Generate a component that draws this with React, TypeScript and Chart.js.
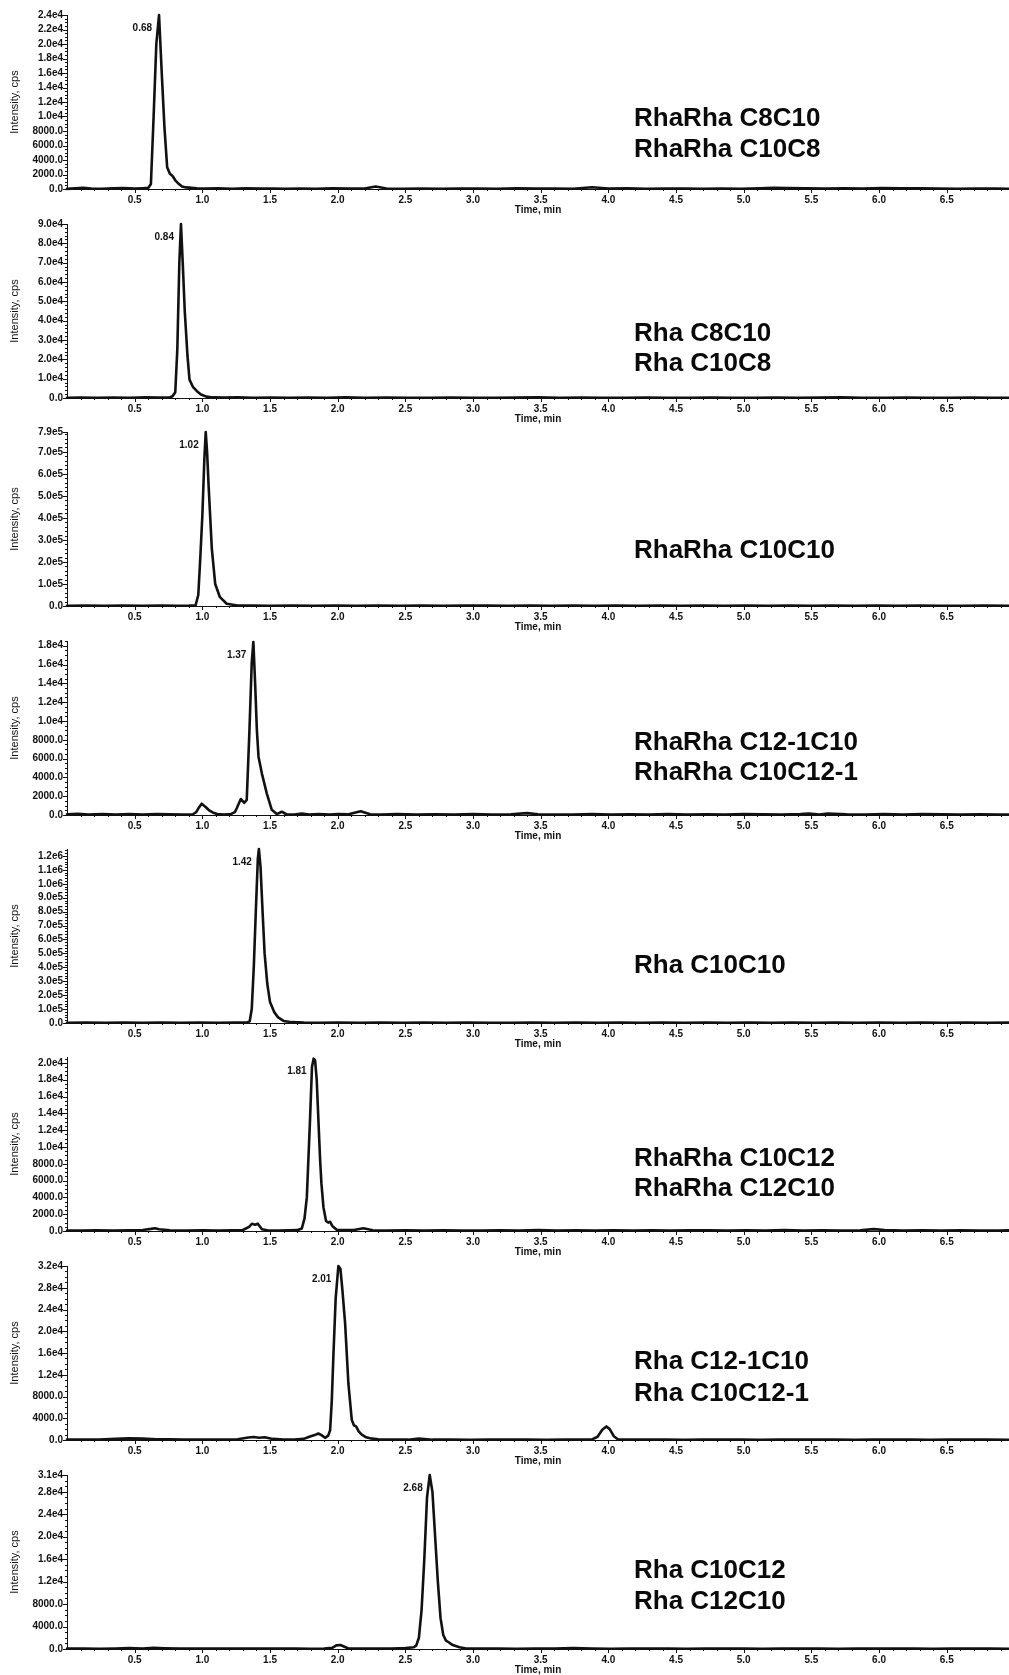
import React, { useEffect, useRef } from "react";
import { Chart, registerables } from "chart.js";

Chart.register(...registerables);

const FONT = '"Liberation Sans", Arial, Helvetica, sans-serif';
const INK = "#111111";

// ---------- Panel 1: RhaRha C8C10 / C10C8 ----------
const time1 = [
  0.0, 0.06, 0.12, 0.18, 0.26, 0.34, 0.42, 0.5, 0.56, 0.6,
  0.62, 0.64, 0.66, 0.68, 0.7, 0.72, 0.74, 0.76, 0.78, 0.8,
  0.82, 0.85, 0.88, 0.92, 0.96, 1.02, 1.12, 1.22, 1.32, 1.42,
  1.52, 1.62, 1.72, 1.84, 1.96, 2.08, 2.2, 2.28, 2.36, 2.48,
  2.62, 2.76, 2.9, 3.04, 3.18, 3.32, 3.46, 3.6, 3.74, 3.88,
  4.0, 4.14, 4.28, 4.42, 4.56, 4.7, 4.84, 4.98, 5.12, 5.22,
  5.32, 5.46, 5.6, 5.74, 5.88, 6.02, 6.16, 6.3, 6.44, 6.58,
  6.72, 6.86, 6.96,
];
const int1 = [
  20, 80, 160, 60, 40, 90, 120, 70, 110, 150,
  700, 10000, 20000, 24000, 16000, 8500, 3000, 2100, 1800, 1200,
  800, 350, 220, 160, 90, 60, 80, 40, 90, 50,
  70, 40, 60, 30, 80, 50, 60, 350, 60, 40,
  70, 30, 60, 50, 40, 80, 50, 60, 40, 250,
  60, 80, 40, 70, 50, 30, 60, 40, 100, 160,
  120, 80, 60, 90, 70, 130, 90, 110, 60, 40,
  70, 50, 40,
];

// ---------- Panel 2: Rha C8C10 / C10C8 ----------
const time2 = [
  0.0, 0.1, 0.22, 0.34, 0.46, 0.58, 0.68, 0.76, 0.78, 0.8,
  0.815, 0.83, 0.842, 0.855, 0.87, 0.89, 0.905, 0.93, 0.96, 0.99,
  1.03, 1.08, 1.16, 1.26, 1.38, 1.5, 1.64, 1.78, 1.92, 2.06,
  2.2, 2.36, 2.52, 2.68, 2.84, 3.0, 3.16, 3.32, 3.48, 3.64,
  3.8, 3.96, 4.12, 4.28, 4.44, 4.6, 4.76, 4.92, 5.08, 5.24,
  5.4, 5.56, 5.72, 5.88, 6.04, 6.2, 6.36, 6.52, 6.68, 6.84,
  6.96,
];
const int2 = [
  100, 200, 150, 250, 100, 300, 200, 400, 900, 3000,
  25000, 70000, 90000, 70000, 45000, 22000, 9500, 5800, 3500, 1800,
  700, 300, 200, 300, 150, 250, 100, 200, 150, 300,
  100, 200, 150, 100, 250, 150, 100, 200, 300, 100,
  200, 150, 100, 250, 150, 100, 200, 100, 150, 250,
  100, 200, 300, 150, 100, 200, 150, 100, 200, 100,
  150,
];

// ---------- Panel 3: RhaRha C10C10 ----------
const time3 = [
  0.0, 0.14, 0.28, 0.42, 0.56, 0.7, 0.82, 0.9, 0.95, 0.97,
  0.985, 1.0, 1.015, 1.025, 1.035, 1.046, 1.07, 1.095, 1.13, 1.18,
  1.26, 1.36, 1.5, 1.66, 1.82, 1.98, 2.14, 2.3, 2.46, 2.62,
  2.78, 2.94, 3.1, 3.26, 3.42, 3.58, 3.74, 3.9, 4.06, 4.22,
  4.38, 4.54, 4.7, 4.86, 5.02, 5.18, 5.34, 5.5, 5.66, 5.82,
  5.98, 6.14, 6.3, 6.46, 6.62, 6.78, 6.96,
];
const int3 = [
  1000, 2000, 800, 1500, 1000, 2000, 1000, 1500, 3000, 50000,
  220000, 410000, 670000, 790000, 700000, 550000, 260000, 100000, 40000, 10000,
  2500, 1500, 1000, 2000, 800, 1500, 1000, 2000, 1000, 1500,
  800, 1500, 2000, 1000, 1500, 800, 2000, 1000, 1500, 1000,
  2000, 800, 1500, 1000, 2000, 1000, 1500, 800, 2000, 1000,
  1500, 1000, 2000, 1000, 800, 1500, 1000,
];

// ---------- Panel 4: RhaRha C12-1C10 / C10C12-1 ----------
const time4 = [
  0.0, 0.08, 0.16, 0.26, 0.36, 0.46, 0.56, 0.66, 0.76, 0.86,
  0.93, 0.955, 0.975, 0.995, 1.02, 1.05, 1.08, 1.11, 1.16, 1.21,
  1.24, 1.255, 1.284, 1.31, 1.328, 1.348, 1.365, 1.377, 1.39, 1.403,
  1.415, 1.44, 1.476, 1.513, 1.55, 1.587, 1.62, 1.68, 1.735, 1.79,
  1.86, 1.94, 2.005, 2.08, 2.17, 2.24, 2.32, 2.44, 2.58, 2.72,
  2.86, 3.0, 3.14, 3.28, 3.4, 3.48, 3.6, 3.74, 3.88, 4.02,
  4.16, 4.3, 4.44, 4.58, 4.72, 4.86, 5.0, 5.14, 5.28, 5.42,
  5.48, 5.56, 5.62, 5.76, 5.9, 6.04, 6.18, 6.32, 6.46, 6.6,
  6.74, 6.88, 6.96,
];
const int4 = [
  80, 120, 50, 100, 60, 90, 40, 110, 70, 50,
  80, 300, 800, 1200, 900, 500, 250, 100, 60, 90,
  300, 750, 1700, 1300, 1600, 9000, 16200, 18400, 14000, 9000,
  6200, 4400, 2300, 550, 100, 350, 80, 60, 150, 50,
  90, 60, 110, 70, 400, 80, 50, 90, 40, 70,
  60, 90, 50, 80, 200, 80, 60, 40, 90, 60,
  70, 50, 90, 40, 80, 60, 100, 70, 50, 90,
  150, 60, 160, 70, 50, 90, 60, 100, 70, 50,
  80, 60, 50,
];

// ---------- Panel 5: Rha C10C10 ----------
const time5 = [
  0.0, 0.14, 0.28, 0.42, 0.56, 0.7, 0.84, 0.98, 1.12, 1.24,
  1.33, 1.35, 1.365, 1.38, 1.395, 1.41, 1.418, 1.43, 1.445, 1.46,
  1.48, 1.5, 1.53, 1.56, 1.6, 1.66, 1.75, 1.86, 2.0, 2.16,
  2.32, 2.48, 2.64, 2.8, 2.96, 3.12, 3.28, 3.44, 3.6, 3.76,
  3.92, 4.08, 4.24, 4.4, 4.56, 4.72, 4.88, 5.04, 5.2, 5.36,
  5.52, 5.68, 5.84, 6.0, 6.16, 6.32, 6.48, 6.64, 6.8, 6.96,
];
const int5 = [
  2000, 3000, 1500, 2500, 2000, 3000, 2000, 2500, 2000, 3000,
  4000, 12000, 100000, 400000, 800000, 1180000, 1250000, 1120000, 800000, 500000,
  280000, 150000, 80000, 40000, 15000, 6000, 3000, 2000, 3000, 2000,
  2500, 1500, 3000, 2000, 2500, 2000, 1500, 3000, 2000, 2500,
  2000, 3000, 1500, 2500, 2000, 3000, 2000, 2500, 1500, 3000,
  2000, 2500, 2000, 3000, 1500, 2500, 2000, 3000, 2000, 2500,
];

// ---------- Panel 6: RhaRha C10C12 / C12C10 ----------
const time6 = [
  0.0, 0.1, 0.22, 0.34, 0.46, 0.56, 0.62, 0.65, 0.68, 0.76,
  0.88, 1.0, 1.12, 1.22, 1.3, 1.345, 1.366, 1.39, 1.41, 1.44,
  1.48, 1.56, 1.64, 1.7, 1.735, 1.755, 1.772, 1.796, 1.81, 1.822,
  1.833, 1.845, 1.857, 1.87, 1.88, 1.895, 1.914, 1.93, 1.944, 1.96,
  1.993, 2.05, 2.12, 2.19, 2.26, 2.36, 2.5, 2.64, 2.78, 2.92,
  3.06, 3.2, 3.34, 3.48, 3.62, 3.76, 3.9, 4.04, 4.18, 4.32,
  4.46, 4.6, 4.74, 4.88, 5.02, 5.16, 5.3, 5.44, 5.58, 5.72,
  5.86, 5.96, 6.04, 6.18, 6.32, 6.46, 6.6, 6.74, 6.88, 6.96,
];
const int6 = [
  60, 40, 90, 50, 80, 120, 250, 330, 200, 70,
  50, 90, 60, 80, 120, 500, 850, 750, 870, 200,
  80, 60, 90, 100, 300, 1500, 4000, 13400, 19500, 20500,
  20300, 18000, 13400, 8500, 5600, 2800, 1200, 1000, 1100, 600,
  150, 100, 120, 320, 90, 60, 80, 50, 90, 60,
  40, 80, 60, 100, 50, 70, 40, 90, 60, 80,
  50, 70, 90, 40, 80, 60, 100, 50, 70, 60,
  90, 220, 110, 60, 80, 50, 90, 60, 40, 70,
];

// ---------- Panel 7: Rha C12-1C10 / C10C12-1 ----------
const time7 = [
  0.0, 0.12, 0.24, 0.36, 0.46, 0.56, 0.66, 0.76, 0.86, 0.96,
  1.06, 1.16, 1.26, 1.34, 1.38, 1.42, 1.46, 1.52, 1.6, 1.68,
  1.75, 1.79, 1.83, 1.857, 1.88, 1.907, 1.93, 1.944, 1.956, 1.968,
  1.985, 2.005, 2.02, 2.035, 2.055, 2.079, 2.104, 2.12, 2.136, 2.155,
  2.178, 2.21, 2.24, 2.3, 2.4, 2.52, 2.6, 2.7, 2.84, 2.98,
  3.12, 3.26, 3.4, 3.54, 3.68, 3.8, 3.88, 3.92, 3.955, 3.985,
  4.01, 4.04, 4.07, 4.14, 4.28, 4.42, 4.56, 4.7, 4.84, 4.98,
  5.12, 5.26, 5.4, 5.54, 5.68, 5.82, 5.96, 6.1, 6.24, 6.38,
  6.52, 6.66, 6.8, 6.96,
];
const int7 = [
  60, 100, 80, 220, 300, 250, 150, 120, 100, 80,
  60, 90, 150, 450, 550, 400, 500, 200, 100, 80,
  200, 600, 900, 1200, 900, 400, 800, 1800, 7000, 15300,
  26000, 32000, 31500, 27500, 21400, 10400, 3700, 2700, 2500, 1600,
  1000, 500, 300, 150, 80, 60, 250, 60, 80, 50,
  90, 60, 80, 50, 90, 60, 100, 600, 1900, 2500,
  2000, 700, 150, 80, 60, 90, 50, 80, 60, 90,
  50, 70, 90, 60, 80, 50, 90, 60, 80, 50,
  70, 90, 60, 50,
];

// ---------- Panel 8: Rha C10C12 / C12C10 ----------
const time8 = [
  0.0, 0.12, 0.24, 0.36, 0.46, 0.56, 0.64, 0.72, 0.84, 0.96,
  1.08, 1.2, 1.32, 1.44, 1.56, 1.68, 1.8, 1.9, 1.96, 1.99,
  2.02, 2.05, 2.08, 2.16, 2.28, 2.4, 2.5, 2.56, 2.58, 2.6,
  2.62, 2.64, 2.66, 2.68, 2.7, 2.72, 2.74, 2.76, 2.78, 2.8,
  2.82, 2.85, 2.9, 2.95, 3.04, 3.18, 3.32, 3.46, 3.6, 3.74,
  3.88, 4.02, 4.16, 4.3, 4.44, 4.58, 4.72, 4.86, 5.0, 5.14,
  5.28, 5.42, 5.56, 5.7, 5.84, 5.98, 6.12, 6.26, 6.4, 6.54,
  6.68, 6.82, 6.96,
];
const int8 = [
  60, 100, 50, 90, 150, 80, 200, 130, 80, 100,
  60, 90, 70, 100, 60, 80, 50, 70, 200, 650,
  700, 400, 100, 80, 60, 90, 150, 300, 600, 2000,
  7000, 16000, 27000, 31000, 28000, 20000, 12000, 5500, 2500, 1500,
  1200, 700, 300, 100, 60, 90, 50, 80, 60, 150,
  70, 50, 90, 60, 80, 50, 90, 60, 80, 50,
  90, 60, 80, 50, 70, 90, 60, 80, 50, 90,
  60, 80, 50,
];

const times = [time1, time2, time3, time4, time5, time6, time7, time8];
const intensities = [int1, int2, int3, int4, int5, int6, int7, int8];

const peakLabels = ["0.68", "0.84", "1.02", "1.37", "1.42", "1.81", "2.01", "2.68"];
const yAxisMax = [24000, 90000, 790000, 18500, 1250000, 20700, 32000, 31000];
const yLabelTop = [24000, 90000, 790000, 18000, 1200000, 20000, 32000, 31000];
const yTickStep = [2000, 10000, 100000, 2000, 100000, 2000, 4000, 4000];
const yMinorDiv = [4, 5, 5, 4, 5, 4, 4, 4];

const xTickValues = [0.5, 1.0, 1.5, 2.0, 2.5, 3.0, 3.5, 4.0, 4.5, 5.0, 5.5, 6.0, 6.5];
const X_MAX = 6.96;

const compoundNames = [
  ["RhaRha C8C10", "RhaRha C10C8"],
  ["Rha C8C10", "Rha C10C8"],
  ["RhaRha C10C10"],
  ["RhaRha C12-1C10", "RhaRha C10C12-1"],
  ["Rha C10C10"],
  ["RhaRha C10C12", "RhaRha C12C10"],
  ["Rha C12-1C10", "Rha C10C12-1"],
  ["Rha C10C12", "Rha C12C10"],
];

// layout / style (not data)
const panelTops = [0, 209, 417, 626, 834, 1042, 1251, 1460];
const nameOffsets = [
  [-70.5, -39.5],
  [-64.5, -34.5],
  [-55],
  [-72.5, -42.5],
  [-57],
  [-72.5, -42.5],
  [-78.5, -46.5],
  [-78.5, -47.5],
];
const CANVAS_W = 1009;
const CANVAS_H = 218;
const ZERO_Y = 189;

function fmtIntensity(v: number): string {
  if (v === 0) return "0.0";
  if (v >= 10000) {
    const e = Math.floor(Math.log10(v) + 1e-9);
    const m = v / Math.pow(10, e);
    return m.toFixed(1) + "e" + e;
  }
  return v.toFixed(1);
}

function buildYTicks(i: number): number[] {
  const out: number[] = [];
  const step = yTickStep[i];
  const top = yLabelTop[i];
  for (let k = 0; k * step < top - 1e-6; k++) out.push(k * step);
  out.push(top);
  return out;
}

function Panel({ idx }: { idx: number }) {
  const ref = useRef<HTMLCanvasElement | null>(null);

  useEffect(() => {
    const canvas = ref.current;
    if (!canvas) return;
    const t = times[idx];
    const v = intensities[idx];
    const yTicks = buildYTicks(idx);

    let peakIdx = 0;
    for (let k = 1; k < v.length; k++) if (v[k] > v[peakIdx]) peakIdx = k;

    const decor = {
      id: "decor" + idx,
      afterDraw(chart: any) {
        const { ctx, chartArea } = chart;
        const xs = chart.scales.x;
        const ys = chart.scales.y;
        ctx.save();
        ctx.strokeStyle = INK;
        ctx.lineWidth = 1;
        // y ticks (major + minor)
        const minor = yTickStep[idx] / yMinorDiv[idx];
        for (let k = 0; k * minor <= yAxisMax[idx] + 1e-6; k++) {
          const val = k * minor;
          const py = Math.round(ys.getPixelForValue(val)) + 0.5;
          const major = k % yMinorDiv[idx] === 0;
          const len = major ? 4 : 2;
          ctx.beginPath();
          ctx.moveTo(chartArea.left - len, py);
          ctx.lineTo(chartArea.left, py);
          ctx.stroke();
        }
        {
          const py = Math.round(ys.getPixelForValue(yLabelTop[idx])) + 0.5;
          ctx.beginPath();
          ctx.moveTo(chartArea.left - 4, py);
          ctx.lineTo(chartArea.left, py);
          ctx.stroke();
        }
        // x ticks (major every 0.5, minor every 0.1)
        for (let k = 1; k * 0.1 <= X_MAX; k++) {
          const px = Math.round(xs.getPixelForValue(k * 0.1)) + 0.5;
          const major = k % 5 === 0;
          const len = major ? 4 : 2;
          ctx.beginPath();
          ctx.moveTo(px, chartArea.bottom);
          ctx.lineTo(px, chartArea.bottom + len);
          ctx.stroke();
        }
        // peak label
        ctx.fillStyle = INK;
        ctx.font = "bold 10px " + FONT;
        ctx.textAlign = "right";
        ctx.textBaseline = "middle";
        const apx = xs.getPixelForValue(t[peakIdx]);
        const apy = ys.getPixelForValue(v[peakIdx]);
        ctx.fillText(peakLabels[idx], apx - 7, apy + 13);
        // compound names
        ctx.fillStyle = "#0a0a0a";
        ctx.font = "bold 26px " + FONT;
        ctx.textAlign = "left";
        ctx.textBaseline = "middle";
        compoundNames[idx].forEach((name, j) => {
          ctx.fillText(name, 634, chartArea.bottom + nameOffsets[idx][j]);
        });
        ctx.restore();
      },
    };

    const chart = new Chart(canvas, {
      type: "line",
      data: {
        datasets: [
          {
            data: t.map((x, k) => ({ x, y: v[k] })),
            borderColor: INK,
            borderWidth: 2.6,
            borderJoinStyle: "round",
            borderCapStyle: "round",
            pointRadius: 0,
            tension: 0,
            fill: false,
            clip: 8,
          } as any,
        ],
      },
      options: {
        animation: false,
        responsive: false,
        maintainAspectRatio: false,
        events: [],
        layout: { padding: { top: 15, left: 0, right: 0, bottom: 0 } },
        plugins: {
          legend: { display: false },
          tooltip: { enabled: false },
          title: { display: false },
        },
        scales: {
          x: {
            type: "linear",
            min: 0,
            max: X_MAX,
            afterBuildTicks: (s: any) => {
              s.ticks = xTickValues.map((val) => ({ value: val }));
            },
            afterFit: (s: any) => {
              s.height = CANVAS_H - ZERO_Y;
            },
            grid: { display: false, drawTicks: false },
            border: { display: true, color: INK, width: 1 },
            ticks: {
              padding: 5,
              autoSkip: false,
              maxRotation: 0,
              color: INK,
              font: { family: FONT, size: 10, weight: "bold" },
              callback: (val: any) => Number(val).toFixed(1),
            },
            title: {
              display: true,
              text: "Time, min",
              color: INK,
              font: { family: FONT, size: 10, weight: "bold" },
              padding: { top: 0, bottom: 2 },
            },
          },
          y: {
            type: "linear",
            min: 0,
            max: yAxisMax[idx],
            afterBuildTicks: (s: any) => {
              s.ticks = yTicks.map((val) => ({ value: val }));
            },
            afterFit: (s: any) => {
              s.width = 67;
            },
            grid: { display: false, drawTicks: false },
            border: { display: true, color: INK, width: 1 },
            ticks: {
              padding: 4,
              autoSkip: false,
              color: INK,
              font: { family: FONT, size: 10, weight: "bold" },
              callback: (val: any) => fmtIntensity(Number(val)),
            },
            title: {
              display: true,
              text: "Intensity, cps",
              color: INK,
              font: { family: FONT, size: 11, weight: "normal" },
              padding: { top: 8, bottom: 0 },
            },
          },
        },
      } as any,
      plugins: [decor],
    });
    return () => chart.destroy();
  }, [idx]);

  return (
    <canvas
      ref={ref}
      width={CANVAS_W}
      height={CANVAS_H}
      style={{ position: "absolute", left: 0, top: panelTops[idx], display: "block" }}
    />
  );
}

export default function App() {
  return (
    <div
      style={{
        position: "absolute",
        left: 0,
        top: 0,
        width: CANVAS_W,
        height: 1675,
        background: "#ffffff",
        overflow: "hidden",
      }}
    >
      {times.map((_, i) => (
        <Panel key={i} idx={i} />
      ))}
    </div>
  );
}
